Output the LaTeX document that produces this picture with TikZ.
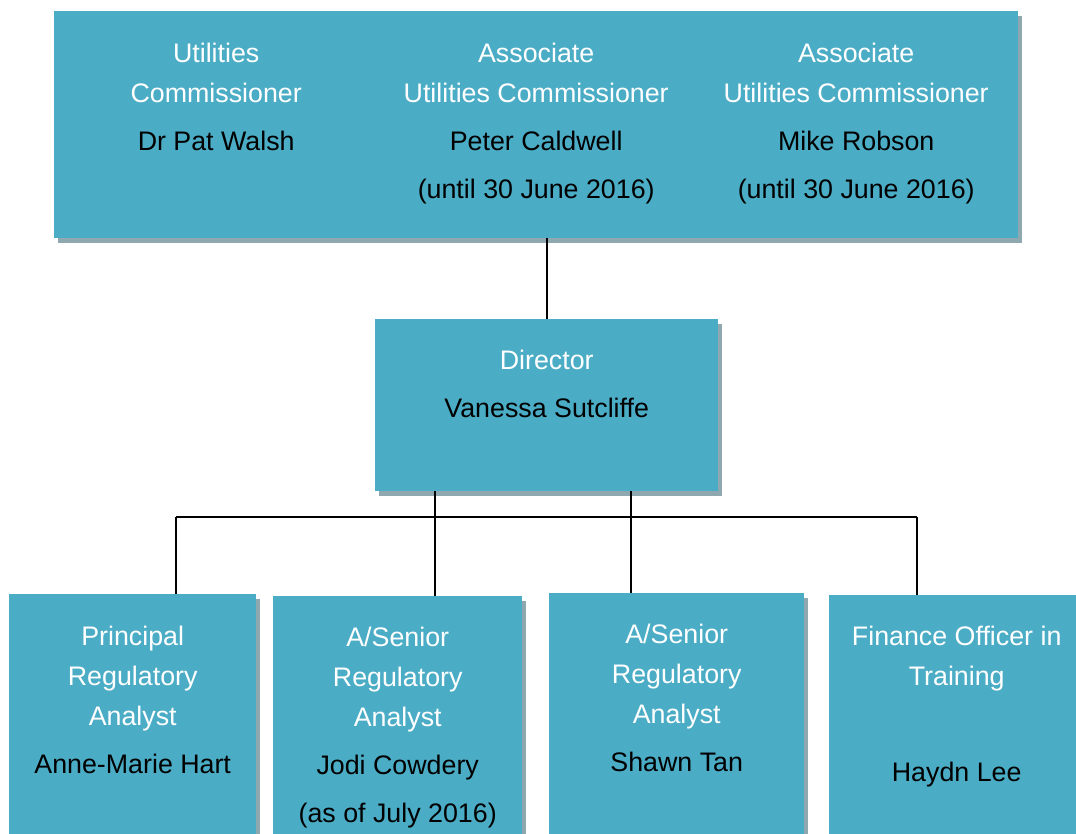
\documentclass[tikz,border=0pt]{standalone}
\usepackage{fontspec}
\setmainfont{Liberation Sans}
\usetikzlibrary{positioning, shadows}
\definecolor{postblue}{HTML}{4BACC6}
\definecolor{shadowgrey}{HTML}{8FA7AF}
\newcommand{\staffname}[1]{\textcolor{black}{#1}}
\tikzset{
  post box/.style={
    rectangle,
    fill=postblue,
    inner sep=0pt,
    anchor=north west,
    drop shadow={shadow xshift=4pt, shadow yshift=-5pt, fill=shadowgrey, opacity=1}
  },
  post text/.style={
    align=center,
    text=white,
    inner sep=0pt,
    font=\fontsize{26.8}{40}\selectfont
  },
  report line/.style={
    line width=1.8pt,
    color=black
  }
}

\begin{document}
\begin{tikzpicture}[x=1pt, y=-1pt]
  \useasboundingbox[fill=white] (0,0) rectangle (1076,834);

  %% ---- bus coordinates ----
  \coordinate (bus1) at (176,517);
  \coordinate (bus2) at (435,517);
  \coordinate (bus3) at (631,517);
  \coordinate (bus4) at (917,517);

  %% ---- commissioners (three boxes side by side) ----
  \node[post box, minimum width=324pt, minimum height=227pt] (comm)   at (54,11)  {};
  \node[post box, minimum width=320pt, minimum height=227pt] (assoc1) at (378,11) {};
  \node[post box, minimum width=320pt, minimum height=227pt] (assoc2) at (698,11) {};

  \node[post text, below=32pt of comm.north] (commtext)
    {Utilities\\Commissioner\\[8pt]\staffname{Dr Pat Walsh}};
  \node[post text, below=32pt of assoc1.north, xshift=-2pt] (assoc1text)
    {Associate\\Utilities Commissioner\\[8pt]\staffname{Peter Caldwell}\\[8pt]\staffname{(until 30 June 2016)}};
  \node[post text, below=32pt of assoc2.north, xshift=-2pt] (assoc2text)
    {Associate\\Utilities Commissioner\\[8pt]\staffname{Mike Robson}\\[8pt]\staffname{(until 30 June 2016)}};

  %% ---- director ----
  \node[post box, minimum width=343pt, minimum height=172pt] (dir) at (375,319) {};
  \node[post text, below=31pt of dir.north] (dirtext)
    {Director\\[8pt]\staffname{Vanessa Sutcliffe}};

  %% ---- connectors ----
  \draw[report line] (dir.north |- assoc1.south) -- (dir.north);
  \draw[report line] (bus1) -- (bus4);
  \draw[report line] (dir.south -| bus2) -- (bus2);
  \draw[report line] (dir.south -| bus3) -- (bus3);

  %% ---- staff (bottom row, running off the page) ----
  \node[post box, minimum width=247pt, minimum height=250pt] (pra)  at (9,594)   {};
  \node[post box, minimum width=249pt, minimum height=250pt] (sra1) at (273,596) {};
  \node[post box, minimum width=255pt, minimum height=250pt] (sra2) at (549,593) {};
  \node[post box, minimum width=247pt, minimum height=250pt] (fot)  at (829,595) {};

  \draw[report line] (bus1) -- (bus1 |- pra.north);
  \draw[report line] (bus2) -- (bus2 |- sra1.north);
  \draw[report line] (bus3) -- (bus3 |- sra2.north);
  \draw[report line] (bus4) -- (bus4 |- fot.north);

  \node[post text, below=32pt of pra.north] (pratext)
    {Principal\\Regulatory\\Analyst\\[8pt]\staffname{Anne-Marie Hart}};
  \node[post text, below=31pt of sra1.north] (sra1text)
    {A/Senior\\Regulatory\\Analyst\\[8pt]\staffname{Jodi Cowdery}\\[8pt]\staffname{(as of July 2016)}};
  \node[post text, below=31pt of sra2.north] (sra2text)
    {A/Senior\\Regulatory\\Analyst\\[8pt]\staffname{Shawn Tan}};
  \node[post text, below=31pt of fot.north, xshift=4pt] (fottext)
    {Finance Officer in\\Training\\[56pt]\staffname{Haydn Lee}};
\end{tikzpicture}
\end{document}
